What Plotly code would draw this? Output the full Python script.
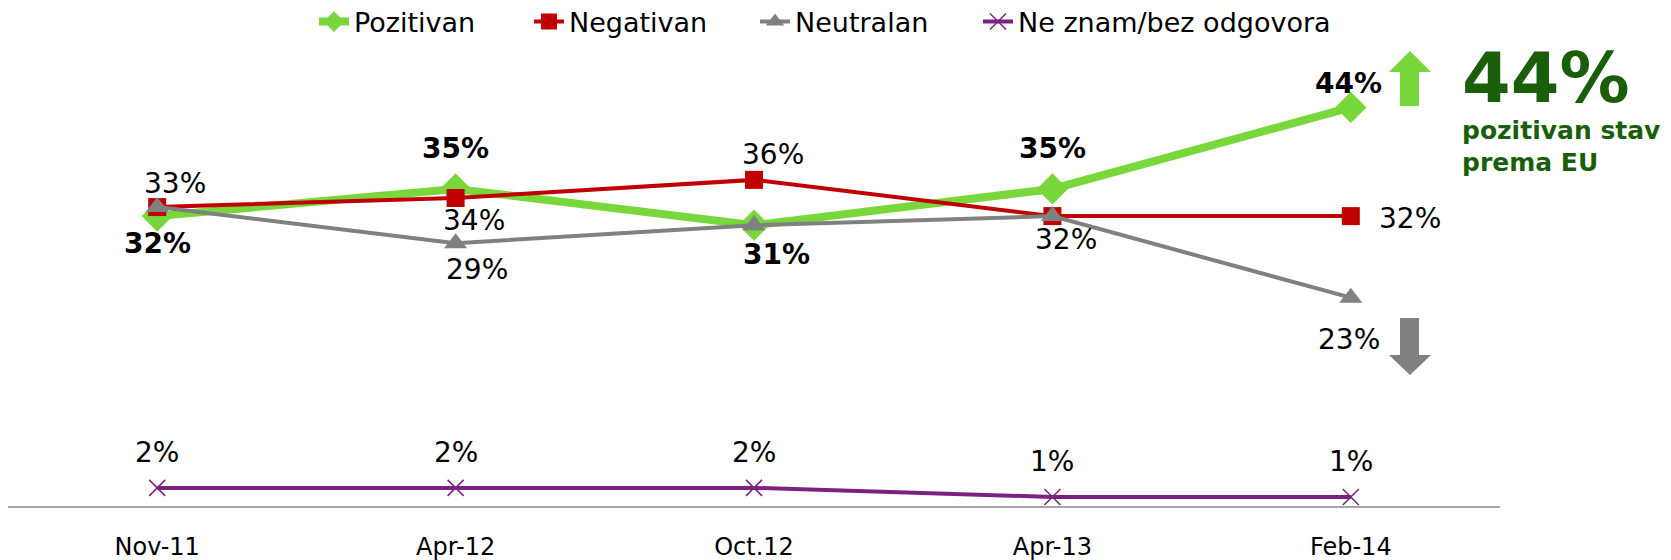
import plotly.graph_objects as go

# data
periods = ["Nov-11", "Apr-12", "Oct.12", "Apr-13", "Feb-14"]
pozitivan = [32, 35, 31, 35, 44]
negativan = [33, 34, 36, 32, 32]
neutralan = [33, 29, 31, 32, 23]
ne_znam = [2, 2, 2, 1, 1]

GREEN = "#78d73a"
RED = "#c00000"
GRAY = "#808080"
PURPLE = "#7b2280"
DARK_GREEN = "#1b5e0a"
FONT = "DejaVu Sans"

# page has an 8px body margin, so the figure itself is a bit smaller
OFF = 8
W, H = 1671 - OFF, 560 - OFF
PLOT_L, PLOT_R, PLOT_T, PLOT_B = 8, 1500, 44, 506   # page pixels
ML, MR = PLOT_L - OFF, W - (PLOT_R - OFF)
MT, MB = PLOT_T - OFF, H - (PLOT_B - OFF)


def px(x):
    return (x - PLOT_L) / (PLOT_R - PLOT_L)


def py(y):
    return (PLOT_B - y) / (PLOT_B - PLOT_T)


fig = go.Figure()

fig.add_trace(go.Scatter(
    x=periods, y=pozitivan, name="Pozitivan", mode="lines+markers",
    line=dict(color=GREEN, width=8),
    marker=dict(symbol="diamond", size=24, color=GREEN),
    cliponaxis=False, legend="legend",
))
fig.add_trace(go.Scatter(
    x=periods, y=negativan, name="Negativan", mode="lines+markers",
    line=dict(color=RED, width=4),
    marker=dict(symbol="square", size=18, color=RED),
    cliponaxis=False, legend="legend2",
))
fig.add_trace(go.Scatter(
    x=periods, y=neutralan, name="Neutralan", mode="lines+markers",
    line=dict(color=GRAY, width=4),
    marker=dict(symbol="triangle-up", size=20, color=GRAY),
    cliponaxis=False, legend="legend3",
))
fig.add_trace(go.Scatter(
    x=periods, y=ne_znam, name="Ne znam/bez odgovora", mode="lines+markers",
    line=dict(color=PURPLE, width=4),
    marker=dict(symbol="x-thin-open", size=16, line=dict(color=PURPLE, width=1.5)),
    cliponaxis=False, legend="legend4",
))

# data labels: (series, index, xshift, yshift, bold)
labels = [
    (pozitivan, 0, 0, -27, True),
    (negativan, 0, 18, 24, False),
    (pozitivan, 1, 0, 40, True),
    (negativan, 1, 18, -22, False),
    (neutralan, 1, 21, -26, False),
    (negativan, 2, 19, 25, False),
    (pozitivan, 2, 22, -29, True),
    (pozitivan, 3, 0, 40, True),
    (negativan, 3, 14, -23, False),
    (pozitivan, 4, -2, 24, True),
    (negativan, 4, 59, -2, False),
    (neutralan, 4, -2, -42, False),
]
for series, i, dx, dy, bold in labels:
    txt = f"{series[i]}%"
    if bold:
        txt = f"<b>{txt}</b>"
    fig.add_annotation(x=periods[i], y=series[i], text=txt, showarrow=False,
                       xshift=dx, yshift=dy,
                       font=dict(family=FONT, size=28, color="black"))

for i, v in enumerate(ne_znam):
    fig.add_annotation(x=periods[i], y=v, text=f"{v}%", showarrow=False,
                       yshift=35, font=dict(family=FONT, size=28, color="black"))

# block arrows
def arrow_up(xl, xr, hl, hr, top, hb, bot):
    return (f"M{px(xl)},{py(bot)} L{px(xl)},{py(hb)} L{px(hl)},{py(hb)} "
            f"L{px((hl + hr) / 2)},{py(top)} L{px(hr)},{py(hb)} L{px(xr)},{py(hb)} "
            f"L{px(xr)},{py(bot)} Z")


fig.add_shape(type="path", xref="paper", yref="paper",
              path=arrow_up(1400, 1419, 1389, 1431, 51, 72, 106),
              fillcolor=GREEN, line=dict(width=0))
fig.add_shape(type="path", xref="paper", yref="paper",
              path=arrow_up(1400, 1419, 1389, 1431, 375, 355, 318),
              fillcolor=GRAY, line=dict(width=0))

fig.add_annotation(xref="paper", yref="paper", x=px(1460), y=py(78),
                   xanchor="left", yanchor="middle", showarrow=False,
                   text="<b>44%</b>",
                   font=dict(family=FONT, size=70, color=DARK_GREEN))
for line_txt, ly in [("pozitivan stav", 130), ("prema EU", 162)]:
    fig.add_annotation(xref="paper", yref="paper", x=px(1460), y=py(ly),
                       xanchor="left", yanchor="middle", showarrow=False,
                       text=f"<b>{line_txt}</b>",
                       font=dict(family=FONT, size=25, color=DARK_GREEN))

legend_font = dict(family=FONT, size=27, color="black")
legend_x = [314, 529, 755, 978]
legends = {}
for k, lx in enumerate(legend_x):
    key = "legend" if k == 0 else f"legend{k + 1}"
    legends[key] = dict(orientation="h", x=px(lx), xanchor="left",
                        y=py(22), yanchor="middle", font=legend_font,
                        bgcolor="rgba(0,0,0,0)")

fig.update_layout(
    width=W, height=H,
    margin=dict(l=ML, r=MR, t=MT, b=MB, autoexpand=False),
    plot_bgcolor="white", paper_bgcolor="white",
    font=dict(family=FONT, size=24, color="black"),
    showlegend=True,
    xaxis=dict(type="category", range=[-0.5, 4.5], showgrid=False,
               showline=True, linecolor="#a6a6a6", linewidth=2,
               ticks="", ticklabelstandoff=18,
               tickfont=dict(family=FONT, size=24, color="black"),
               zeroline=False, fixedrange=True),
    yaxis=dict(range=[0, 51], visible=False, showgrid=False, zeroline=False,
               fixedrange=True),
    **legends,
)

fig.write_html("out.html")
